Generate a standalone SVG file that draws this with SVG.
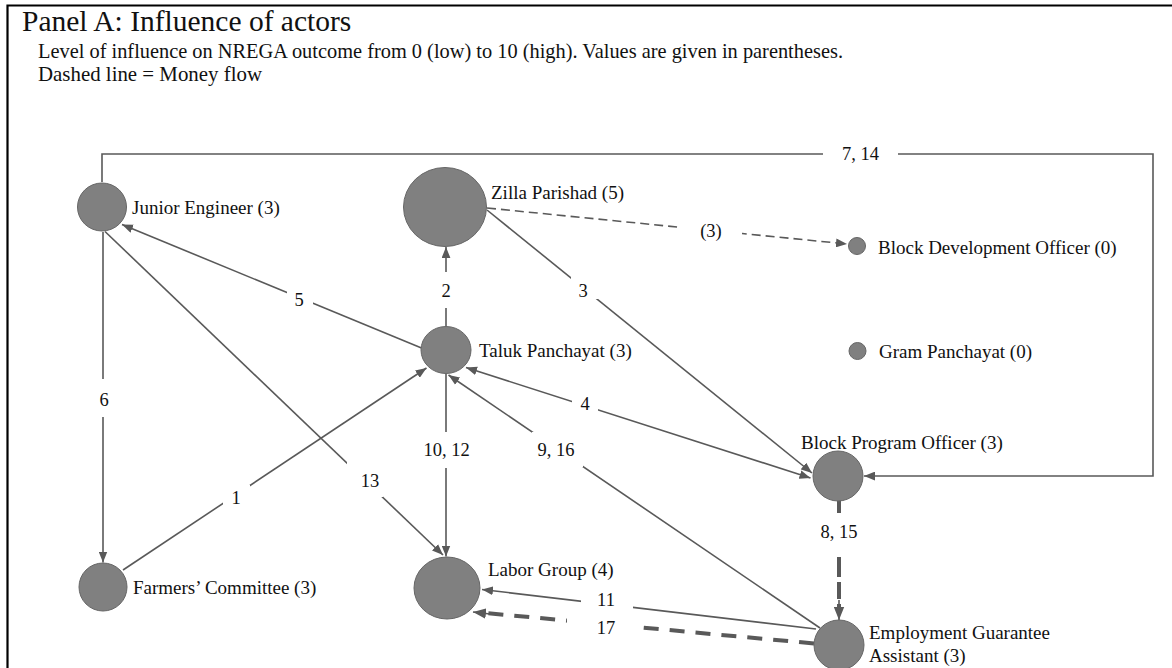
<svg xmlns="http://www.w3.org/2000/svg" width="1172" height="668" viewBox="0 0 1172 668">
<style>
text{font-family:"Liberation Serif","Times New Roman",serif;fill:#111;}
.title{font-size:29.5px;}
.sub{font-size:20.3px;}
.lbl{font-size:19px;}
.el{font-size:18.5px;text-anchor:middle;}
.node{fill:#808080;stroke:#666;stroke-width:1;}
.e{fill:none;stroke:#595959;stroke-width:1.6;}
.d{fill:none;stroke:#595959;stroke-width:1.6;stroke-dasharray:9 5;}
.dt{fill:none;stroke:#595959;stroke-width:4;}
.bg{fill:#fff;}
</style>
<defs>
<marker id="ah" viewBox="0 0 10 8" refX="10" refY="4" markerWidth="11" markerHeight="9" markerUnits="userSpaceOnUse" orient="auto-start-reverse">
<path d="M0,0 L10,4 L0,8 z" fill="#595959"/>
</marker>
<marker id="ahb" viewBox="0 0 10 8" refX="10" refY="4" markerWidth="13" markerHeight="11" markerUnits="userSpaceOnUse" orient="auto">
<path d="M0,0 L10,4 L0,8 z" fill="#595959"/>
</marker>
</defs>
<rect width="1172" height="668" fill="#fff"/>
<path d="M7.5,668 V5.5 H1172" fill="none" stroke="#000" stroke-width="2.2"/>
<g id="header">
<text class="title" x="22" y="31">Panel A: Influence of actors</text>
<text class="sub" x="38" y="58" textLength="805" lengthAdjust="spacingAndGlyphs">Level of influence on NREGA outcome from 0 (low) to 10 (high). Values are given in parentheses.</text>
<text class="sub" x="38" y="81" textLength="224" lengthAdjust="spacingAndGlyphs">Dashed line = Money flow</text>
</g>
<g id="connectors">
<path class="e" d="M102,182 V154 H1153 V476 H864" marker-end="url(#ah)"/>
<path class="d" d="M487,208 L847,244" marker-end="url(#ah)"/>
<path class="e" d="M446,326 V247" marker-end="url(#ah)"/>
<path class="e" d="M487,210 L812,473" marker-end="url(#ah)"/>
<path class="e" d="M421.5,348 L122,224.5" marker-end="url(#ah)"/>
<path class="e" d="M103,232 V562.5" marker-end="url(#ah)"/>
<path class="e" d="M123,570 L426.5,368" marker-end="url(#ah)"/>
<path class="e" d="M105,231.5 L443,555" marker-end="url(#ah)"/>
<path class="e" d="M446,374 V556.5" marker-end="url(#ah)"/>
<path class="e" d="M820,628 L448.5,375" marker-end="url(#ah)"/>
<path class="e" d="M466,367.5 L810.5,478" marker-start="url(#ah)" marker-end="url(#ah)"/>
<path class="dt" d="M839,500 V607" stroke-dasharray="13 44 20 5 17 5 20"/>
<path class="e" d="M839,600 V620" stroke-width="3" marker-end="url(#ahb)"/>
<path class="e" d="M816,629 L482,589.5" marker-end="url(#ah)"/>
<path class="dt" d="M814,643.5 L485,613" stroke-dasharray="15 11"/>
<path class="e" d="M490,614 L473,612" stroke-width="3" marker-end="url(#ahb)"/>
</g>
<g id="edge-labels">
<rect class="bg" x="823" y="145" width="75" height="18"/><text class="el" x="860.5" y="160">7, 14</text>
<rect class="bg" x="682" y="222" width="60" height="20"/><text class="el" x="711" y="237">(3)</text>
<rect class="bg" x="438" y="272" width="16" height="36"/><text class="el" x="446" y="297">2</text>
<rect class="bg" x="571" y="276" width="27" height="23"/><text class="el" x="583" y="297">3</text>
<rect class="bg" x="287" y="289" width="26" height="21"/><text class="el" x="299" y="306">5</text>
<rect class="bg" x="95" y="379" width="16" height="38"/><text class="el" x="104" y="406">6</text>
<rect class="bg" x="223" y="485" width="27" height="21"/><text class="el" x="236" y="504">1</text>
<rect class="bg" x="347" y="462" width="36" height="35"/><text class="el" x="370" y="487">13</text>
<rect class="bg" x="420" y="432" width="54" height="36"/><text class="el" x="446.5" y="456">10, 12</text>
<rect class="bg" x="532" y="432" width="51" height="35"/><text class="el" x="556" y="456">9, 16</text>
<rect class="bg" x="572" y="394" width="26" height="22"/><text class="el" x="585" y="410">4</text>
<rect class="bg" x="815" y="514" width="48" height="42"/><text class="el" x="839" y="538">8, 15</text>
<rect class="bg" x="581" y="590" width="52" height="20"/><text class="el" x="606" y="606">11</text>
<rect class="bg" x="567" y="614" width="68" height="19"/><text class="el" x="606" y="634">17</text>
</g>
<g id="junior-engineer"><ellipse class="node" cx="102" cy="207" rx="24.5" ry="24"/><text class="lbl" x="132" y="214">Junior Engineer (3)</text></g>
<g id="zilla-parishad"><ellipse class="node" cx="445" cy="207" rx="41.5" ry="39.5"/><text class="lbl" x="491" y="199">Zilla Parishad (5)</text></g>
<g id="taluk-panchayat"><ellipse class="node" cx="446" cy="350" rx="25" ry="23.5"/><text class="lbl" x="479" y="357">Taluk Panchayat (3)</text></g>
<g id="block-development-officer"><circle class="node" cx="857" cy="246" r="8.5"/><text class="lbl" x="878" y="254">Block Development Officer (0)</text></g>
<g id="gram-panchayat"><circle class="node" cx="857.5" cy="351" r="8.5"/><text class="lbl" x="879" y="358">Gram Panchayat (0)</text></g>
<g id="block-program-officer"><circle class="node" cx="838" cy="476" r="25"/><text class="lbl" x="801" y="449">Block Program Officer (3)</text></g>
<g id="farmers-committee"><circle class="node" cx="103" cy="587" r="24"/><text class="lbl" x="133" y="594">Farmers’ Committee (3)</text></g>
<g id="labor-group"><ellipse class="node" cx="447" cy="588" rx="33" ry="31"/><text class="lbl" x="488" y="576">Labor Group (4)</text></g>
<g id="employment-guarantee-assistant"><circle class="node" cx="839" cy="645" r="25"/><text class="lbl" x="869" y="639">Employment Guarantee</text><text class="lbl" x="869" y="662">Assistant (3)</text></g>
</svg>
